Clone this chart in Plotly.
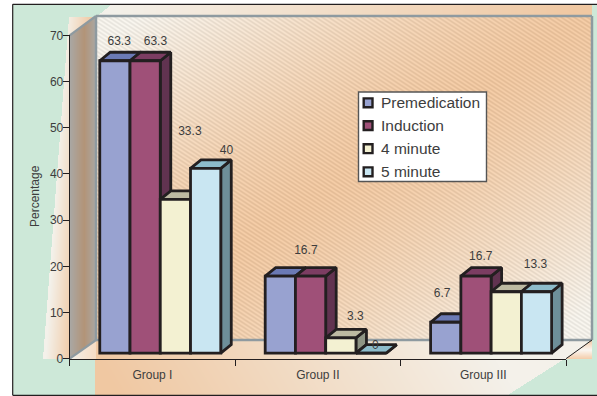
import base64
import struct
import zlib

import numpy as np
import plotly.graph_objects as go

# Chart data
groups = ["Group I", "Group II", "Group III"]
series_names = ["Premedication", "Induction", "4 minute", "5 minute"]
premedication = [63.3, 16.7, 6.7]
induction = [63.3, 16.7, 16.7]
minute_4 = [33.3, 3.3, 13.3]
minute_5 = [40, 0, 13.3]
y_ticks = [0, 10, 20, 30, 40, 50, 60, 70]

# Face colours per series: front, top, side
front_colors = ["#98a2d0", "#9f5078", "#f3f1d2", "#c9e6f2"]
top_colors = ["#6b7ab5", "#7c3d62", "#bdbaa2", "#8dbccb"]
side_colors = ["#5d6a9c", "#613350", "#8e9484", "#6e8f99"]

# Value labels drawn on the chart, with their pixel offset from the front top centre of the bar
label_offsets = {
    (0, 0): (4.3, -18.7),
    (0, 1): (10.3, -18.7),
    (0, 2): (14.5, -67),
    (0, 3): (20.8, -17),
    (1, 1): (-4.7, -25),
    (1, 2): (14.5, -21),
    (1, 3): (4.3, -7),
    (2, 0): (-3.7, -28),
    (2, 1): (4.7, -19),
    (2, 3): (-1, -26.7),
}

W, H = 597, 396
AX_L, AX_R, AX_T, AX_B = 69.7, 566.0, 35.3, 358.7
PX_X = (AX_R - AX_L) / 3
PX_Y = (AX_B - AX_T) / 70
BAR_W = 30.25 / PX_X
GROUP_SHIFT = 7.85 / PX_X
BASE = (AX_B - 353.2) / PX_Y
DEPTH_X, DEPTH_Y = 10.5 / PX_X, 8.5 / PX_Y
INK = "#231f20"
TEXT = "#3d3d3d"
FONT = "Liberation Sans, Arial, sans-serif"
EDGE = "#8e9aa0"
OUTLINE = 2.8
LABEL_SIZE = 12


def hexrgb(code):
    return np.array([int(code[i:i + 2], 16) for i in (1, 3, 5)], dtype=float)


def mix(a, b, t):
    return a + (b - a) * np.clip(t, 0, 1)[..., None]


def inside(xx, yy, pts):
    # Convex polygon mask
    mask = np.ones_like(xx, dtype=bool)
    n = len(pts)
    area = sum(pts[i][0] * pts[(i + 1) % n][1] - pts[(i + 1) % n][0] * pts[i][1] for i in range(n))
    sign = 1 if area > 0 else -1
    for i in range(n):
        x0, y0 = pts[i]
        x1, y1 = pts[(i + 1) % n]
        mask &= sign * ((x1 - x0) * (yy - y0) - (y1 - y0) * (xx - x0)) >= 0
    return mask


def backdrop():
    yy, xx = np.mgrid[0:H, 0:W] + 0.5
    xx, yy = xx.astype(float), yy.astype(float)
    img = np.full((H, W, 3), 255.0)
    green = hexrgb("#cde8d8")
    cream = hexrgb("#f4f1ea")
    peach = hexrgb("#f0c8a2")

    frame = (xx >= 13) & (yy >= 5) & (yy <= 395)
    img[frame] = green

    # Pale sliver left of the side wall
    sliver = inside(xx, yy, [(69, 17), (43, 358.7), (72, 358.7), (96, 17)])
    shade = mix(cream, peach, (xx - 46 - (358.7 - yy) * 0.06) / 26)
    img[sliver] = shade[sliver]

    # Strip above the back wall
    strip = inside(xx, yy, [(111, 5), (592, 5), (592, 17), (96, 17)])
    shade = mix(cream, peach, (xx - 110) / 470)
    img[strip] = shade[strip]

    # Floor and the band underneath it
    floor = inside(xx, yy, [(70, 359), (96, 339), (592, 339), (566, 359)])
    band = inside(xx, yy, [(95, 358), (566, 358), (507, 395.5), (95, 395.5)])
    shade = mix(peach, cream, (xx - 95 + (yy - 359) * -0.6) / 400)
    img[band] = shade[band]
    img[floor] = shade[floor]
    left_floor = floor & (xx < 96)
    img[left_floor] = mix(cream, hexrgb("#f6dcc4"), (xx - 70) / 26)[left_floor]

    # Small end piece to the right of the floor
    end = inside(xx, yy, [(566, 359), (592, 339.5), (592, 359)])
    level = np.abs((yy - 350) / 9)
    img[end] = mix(hexrgb("#fbf7f2"), hexrgb("#f4cdab"), level)[end]

    # Back wall with its diagonal gradient and fine hatching
    wall = (xx >= 96) & (xx <= 592) & (yy >= 16) & (yy <= 339)
    u, v = (xx - 96) / 496, (yy - 16) / 323
    shade = mix(peach, cream, np.abs(u + v - 1) ** 1.4 * 1.15)
    stripe = np.sin(2 * np.pi * (yy - 0.65 * xx) / 4.2)
    shade = shade + (-3.0 - 9.0 * stripe)[..., None]
    img[wall] = shade[wall]

    # Side wall
    side = inside(xx, yy, [(70, 35.3), (96, 16), (96, 339), (70, 359)])
    t = (xx - 70) / 26
    gray, brown = hexrgb("#aaa8a4"), hexrgb("#b39478")
    shade = np.where((t < 0.55)[..., None], mix(gray, brown, t / 0.55), mix(brown, gray, (t - 0.55) / 0.45))
    img[side] = shade[side]
    return img


def png_uri(img):
    rows = np.clip(img, 0, 255).astype(np.uint8)
    raw = b"".join(b"\x00" + r.tobytes() for r in rows)

    def chunk(tag, data):
        body = tag + data
        return struct.pack(">I", len(data)) + body + struct.pack(">I", zlib.crc32(body))

    head = struct.pack(">IIBBBBB", W, H, 8, 2, 0, 0, 0)
    data = b"\x89PNG\r\n\x1a\n" + chunk(b"IHDR", head) + chunk(b"IDAT", zlib.compress(raw, 9)) + chunk(b"IEND", b"")
    return "data:image/png;base64," + base64.b64encode(data).decode()


def px(x):
    return x / W


def py(y):
    return 1 - y / H


def seg(x0, y0, x1, y1, color, width, layer="below"):
    return dict(type="line", xref="paper", yref="paper", x0=px(x0), y0=py(y0), x1=px(x1), y1=py(y1),
                line=dict(color=color, width=width), layer=layer)


series = [premedication, induction, minute_4, minute_5]
fig = go.Figure()


def bar_left(g, s):
    return g + 0.5 + GROUP_SHIFT + (s - 2) * BAR_W


# Top and side faces, painted left to right
for g in range(len(groups)):
    for s, values in enumerate(series):
        v = values[g]
        left = bar_left(g, s)
        right = left + BAR_W
        top = BASE + v
        fig.add_trace(go.Scatter(
            x=[right, right + DEPTH_X, right + DEPTH_X, right, right],
            y=[BASE, BASE + DEPTH_Y, top + DEPTH_Y, top, BASE],
            mode="lines", fill="toself", fillcolor=side_colors[s],
            line=dict(color=INK, width=OUTLINE), showlegend=False, hoverinfo="skip",
        ))
        fig.add_trace(go.Scatter(
            x=[left, left + DEPTH_X, right + DEPTH_X, right, left],
            y=[top, top + DEPTH_Y, top + DEPTH_Y, top, top],
            mode="lines", fill="toself", fillcolor=top_colors[s],
            line=dict(color=INK, width=OUTLINE), showlegend=False, hoverinfo="skip",
        ))

# Front faces go on the overlay axes so they cover the depth faces
for s, (name, values) in enumerate(zip(series_names, series)):
    fig.add_trace(go.Bar(
        x=[bar_left(g, s) + BAR_W / 2 for g in range(len(groups))],
        y=values, base=BASE, width=BAR_W, name=name,
        marker=dict(color=front_colors[s], line=dict(color=INK, width=OUTLINE)),
        xaxis="x2", yaxis="y2", showlegend=False,
    ))

# Value labels
lab_x, lab_y, lab_t = [], [], []
for (g, s), (dx, dy) in label_offsets.items():
    v = series[s][g]
    lab_x.append(bar_left(g, s) + BAR_W / 2 + dx / PX_X)
    lab_y.append(BASE + v - dy / PX_Y)
    lab_t.append(str(v))
fig.add_trace(go.Scatter(
    x=lab_x, y=lab_y, text=lab_t, mode="text", textposition="middle center",
    textfont=dict(family=FONT, size=LABEL_SIZE, color=TEXT), xaxis="x2", yaxis="y2",
    showlegend=False, hoverinfo="skip",
))

shapes = [
    # Frame
    seg(12.7, 4.3, 12.7, 395.3, INK, 1.2),
    seg(12.7, 4.3, 597, 4.3, INK, 1.2),
    seg(12.7, 395.3, 597, 395.3, INK, 1.2),
    # Wall outlines
    seg(96, 16, 592, 16, EDGE, 2.5),
    seg(592, 16, 592, 340, EDGE, 2.5),
    seg(96, 340, 592, 340, EDGE, 2.5),
    seg(96, 16, 96, 340, EDGE, 2.5),
    seg(69.7, 35.3, 96, 16, EDGE, 2.2),
    seg(69.7, 358.7, 96, 340, EDGE, 2.2),
    seg(566, 358.7, 592, 340, INK, 1.0),
]

# Legend box
shapes.append(dict(type="rect", xref="paper", yref="paper", x0=px(358.5), x1=px(486.5), y0=py(92), y1=py(181.5),
                   fillcolor="white", line=dict(color="#555555", width=1.4), layer="above"))
annotations = []
for name, color, row in zip(series_names, front_colors, [102.8, 125.6, 148.7, 171.8]):
    shapes.append(dict(type="rect", xref="paper", yref="paper", x0=px(363.7), x1=px(372.5), y0=py(row - 4.4), y1=py(row + 4.4),
                       fillcolor=color, line=dict(color=INK, width=2.4), layer="above"))
    annotations.append(dict(x=px(379.3), y=py(row), xref="paper", yref="paper", text=name, showarrow=False,
                            xanchor="left", yanchor="middle", font=dict(family=FONT, size=15.5, color=TEXT)))

annotations.append(dict(x=px(34.5), y=py(196.5), xref="paper", yref="paper", text="Percentage", textangle=-90,
                        xanchor="center", yanchor="middle",
                        showarrow=False, font=dict(family=FONT, size=LABEL_SIZE, color=TEXT)))

x_domain = [AX_L / W, AX_R / W]
y_domain = [1 - AX_B / H, 1 - AX_T / H]
tick_font = dict(family=FONT, size=LABEL_SIZE, color=TEXT)

fig.update_layout(
    width=W, height=H, autosize=False,
    margin=dict(l=0, r=0, t=0, b=0, pad=0),
    paper_bgcolor="white", plot_bgcolor="rgba(0,0,0,0)",
    barmode="overlay", showlegend=False,
    shapes=shapes, annotations=annotations,
    images=[dict(source=png_uri(backdrop()), xref="paper", yref="paper", x=0, y=1, sizex=1, sizey=1,
                 sizing="stretch", xanchor="left", yanchor="top", layer="below")],
    xaxis=dict(domain=x_domain, range=[0, 3], anchor="y", showgrid=False, zeroline=False, automargin=False,
               showline=True, linecolor=INK, linewidth=1,
               tickvals=[0.5, 1.5, 2.5], ticktext=groups, ticks="", ticklabelstandoff=5, tickfont=tick_font,
               minor=dict(tickvals=[0, 1, 2, 3], ticks="outside", ticklen=6, tickwidth=1, tickcolor=INK)),
    yaxis=dict(domain=y_domain, range=[0, 70], anchor="x", showgrid=False, zeroline=False, automargin=False,
               showline=True, linecolor=INK, linewidth=1,
               tickvals=y_ticks, ticks="outside", ticklen=6, tickwidth=1, tickcolor=INK, tickfont=tick_font,
               ticklabelstandoff=-3),
    xaxis2=dict(domain=x_domain, range=[0, 3], overlaying="x", anchor="y2", visible=False, automargin=False),
    yaxis2=dict(domain=y_domain, range=[0, 70], overlaying="y", anchor="x2", visible=False, automargin=False),
)

fig.write_html("out.html")
